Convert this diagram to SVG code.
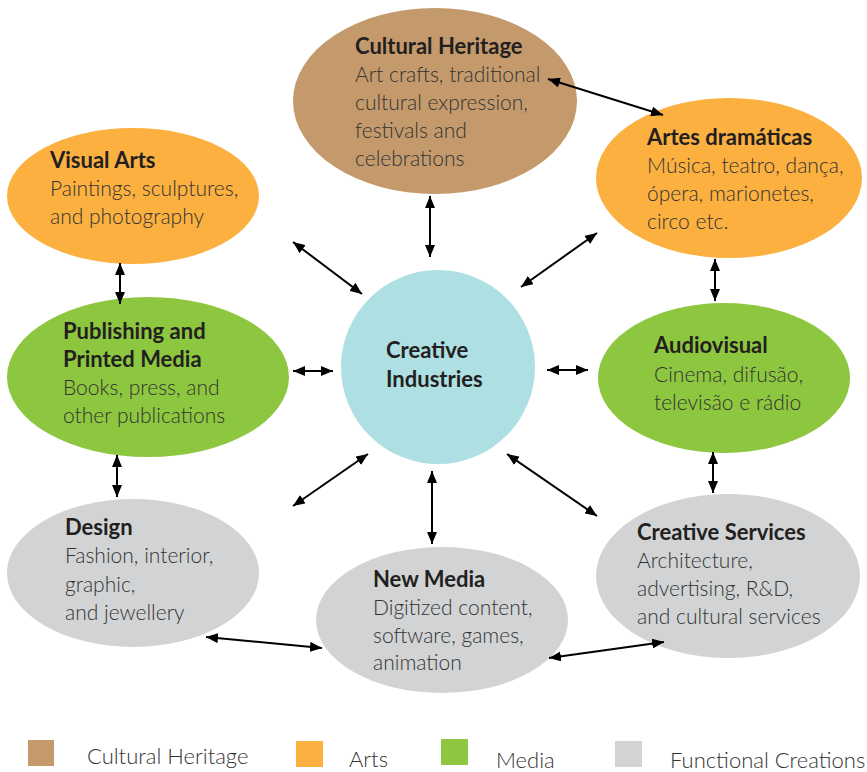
<svg xmlns="http://www.w3.org/2000/svg" width="867" height="772" viewBox="0 0 867 772">
<style>
.t{font-family:Lato,"Open Sans","Liberation Sans",sans-serif;font-size:22px;font-weight:700;fill:#231f20}
.b{font-family:Lato,"Open Sans","Liberation Sans",sans-serif;font-size:21px;font-weight:300;fill:#333}
.lg{font-family:Lato,"Open Sans","Liberation Sans",sans-serif;font-size:22px;font-weight:300;fill:#333}
.c{stroke:#000;stroke-width:2;fill:none;marker-start:url(#ah);marker-end:url(#ah)}
</style>
<defs>
<marker id="ah" viewBox="0 0 12 10" refX="12" refY="5" markerWidth="12" markerHeight="10" markerUnits="userSpaceOnUse" orient="auto-start-reverse">
<path d="M0,0 L12,5 L0,10 Z" fill="#000"/>
</marker>
</defs>
<rect width="867" height="772" fill="#fff"/>
<g id="cultural-heritage">
<ellipse cx="435" cy="101" rx="142" ry="93" fill="#c49a6c"/>
<text class="t" x="355" y="54">Cultural Heritage</text>
<text class="b" x="355" y="82">Art crafts, traditional</text>
<text class="b" x="355" y="110">cultural expression,</text>
<text class="b" x="355" y="138">festivals and</text>
<text class="b" x="355" y="166">celebrations</text>
</g>
<g id="visual-arts">
<ellipse cx="133" cy="196" rx="126" ry="68" fill="#fbb040"/>
<text class="t" x="50" y="168">Visual Arts</text>
<text class="b" x="50" y="196">Paintings, sculptures,</text>
<text class="b" x="50" y="224">and photography</text>
</g>
<g id="artes-dramaticas">
<ellipse cx="729" cy="178" rx="133" ry="80" fill="#fbb040"/>
<text class="t" x="647" y="145">Artes dramáticas</text>
<text class="b" x="647" y="173">Música, teatro, dança,</text>
<text class="b" x="647" y="201">ópera, marionetes,</text>
<text class="b" x="647" y="229">circo etc.</text>
</g>
<g id="publishing">
<ellipse cx="148" cy="377" rx="141" ry="80" fill="#8dc63f"/>
<text class="t" x="63" y="339">Publishing and</text>
<text class="t" x="63" y="367">Printed Media</text>
<text class="b" x="63" y="395">Books, press, and</text>
<text class="b" x="63" y="423">other publications</text>
</g>
<g id="creative-industries">
<circle cx="438" cy="367" r="97" fill="#addfe3"/>
<text class="t" x="386" y="358">Creative</text>
<text class="t" x="386" y="387">Industries</text>
</g>
<g id="audiovisual">
<ellipse cx="724" cy="378" rx="126" ry="75" fill="#8dc63f"/>
<text class="t" x="654" y="353">Audiovisual</text>
<text class="b" x="654" y="382">Cinema, difusão,</text>
<text class="b" x="654" y="410">televisão e rádio</text>
</g>
<g id="design">
<ellipse cx="133" cy="573" rx="126" ry="74" fill="#d1d3d4"/>
<text class="t" x="65" y="535">Design</text>
<text class="b" x="65" y="563">Fashion, interior,</text>
<text class="b" x="65" y="592">graphic,</text>
<text class="b" x="65" y="620">and jewellery</text>
</g>
<g id="new-media">
<ellipse cx="442" cy="620" rx="126" ry="73" fill="#d1d3d4"/>
<text class="t" x="373" y="587">New Media</text>
<text class="b" x="373" y="615">Digitized content,</text>
<text class="b" x="373" y="643">software, games,</text>
<text class="b" x="373" y="670">animation</text>
</g>
<g id="creative-services">
<ellipse cx="728" cy="576" rx="132" ry="82" fill="#d1d3d4"/>
<text class="t" x="637" y="540">Creative Services</text>
<text class="b" x="637" y="568">Architecture,</text>
<text class="b" x="637" y="596">advertising, R&amp;D,</text>
<text class="b" x="637" y="624">and cultural services</text>
</g>
<g id="connectors">
<line class="c" x1="548" y1="79" x2="663" y2="115"/>
<line class="c" x1="430" y1="196" x2="430" y2="257"/>
<line class="c" x1="293" y1="242" x2="362" y2="294"/>
<line class="c" x1="597" y1="233" x2="521" y2="287"/>
<line class="c" x1="120" y1="263" x2="120" y2="304"/>
<line class="c" x1="715" y1="259" x2="715" y2="301"/>
<line class="c" x1="293" y1="371" x2="333" y2="371"/>
<line class="c" x1="547" y1="370" x2="588" y2="370"/>
<line class="c" x1="117" y1="455" x2="117" y2="497"/>
<line class="c" x1="713" y1="452" x2="713" y2="493"/>
<line class="c" x1="293" y1="506" x2="368" y2="454"/>
<line class="c" x1="432" y1="471" x2="432" y2="544"/>
<line class="c" x1="507" y1="454" x2="597" y2="516"/>
<line class="c" x1="206" y1="637" x2="322" y2="648"/>
<line class="c" x1="549" y1="658" x2="664" y2="642"/>
</g>
<g id="legend">
<rect x="28" y="740" width="26" height="26" fill="#c49a6c"/>
<text class="lg" x="87" y="764">Cultural Heritage</text>
<rect x="296" y="741" width="27" height="26" fill="#fbb040"/>
<text class="lg" x="349" y="767">Arts</text>
<rect x="441" y="739" width="27" height="26" fill="#8dc63f"/>
<text class="lg" x="496" y="768">Media</text>
<rect x="615" y="741" width="27" height="26" fill="#d1d3d4"/>
<text class="lg" x="670" y="768">Functional Creations</text>
</g>
</svg>
